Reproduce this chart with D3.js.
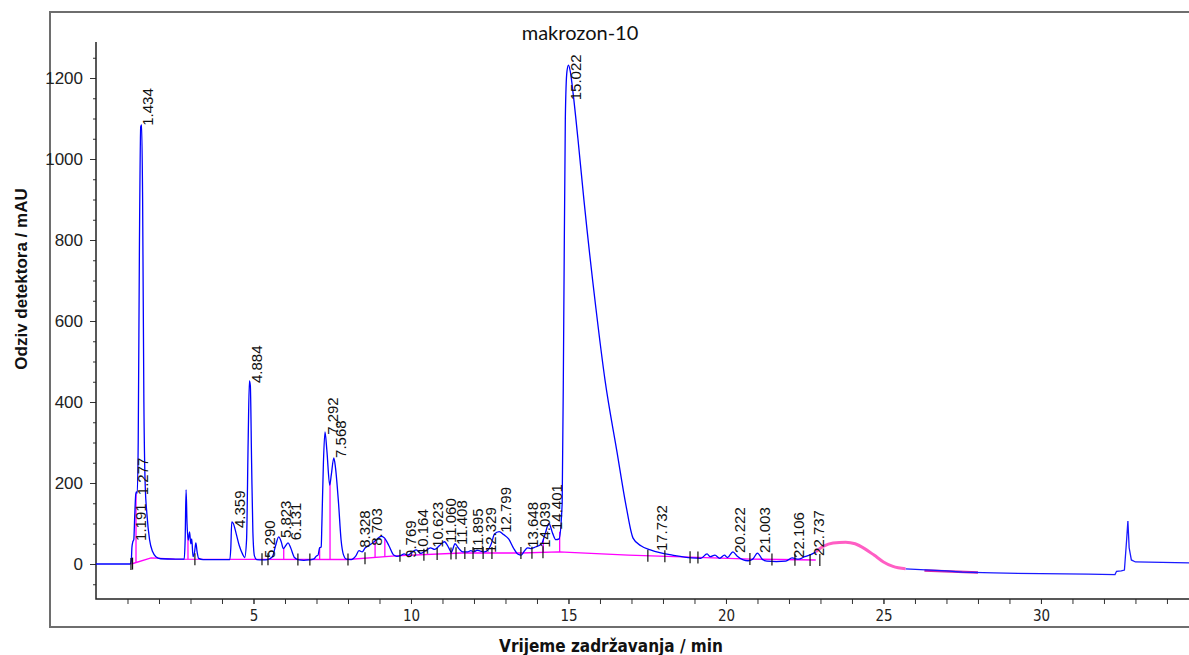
<!DOCTYPE html>
<html>
<head>
<meta charset="utf-8">
<script src="https://cdn.jsdelivr.net/npm/d3@7"></script>
<style>
  body { margin: 0; background: #fff; }
  svg { display: block; }
</style>
</head>
<body>
<div id="chart"></div>
<script>
const WIDTH = 1189;
const HEIGHT = 655;

const chartTitle = "makrozon-10";
const xTitle = "Vrijeme zadržavanja / min";
const yTitle = "Odziv detektora / mAU";

const xMajorTicks = [5, 10, 15, 20, 25, 30];
const xMinorTicks = d3.range(1, 35);
const yMajorTicks = [0, 200, 400, 600, 800, 1000, 1200];
const yMinorTicks = d3.range(-50, 1300, 50);

// signal (min, mAU)
const trace = [
  [0, 0], [1.08, 0], [1.12, 8], [1.14, 40], [1.17, 55], [1.2, 60], [1.23, 120], [1.26, 170],
  [1.28, 178], [1.31, 175], [1.34, 300], [1.38, 800], [1.42, 1080], [1.45, 1084], [1.48, 900],
  [1.52, 400], [1.56, 200], [1.62, 120], [1.7, 60], [1.8, 30], [1.9, 18], [2.05, 13], [2.5, 12],
  [2.8, 12], [2.83, 60], [2.86, 183], [2.89, 100], [2.93, 59], [2.97, 79], [3.01, 50], [3.04, 62],
  [3.08, 18], [3.13, 30], [3.17, 52], [3.21, 30], [3.26, 14], [3.4, 11], [4.0, 11], [4.25, 11],
  [4.28, 40], [4.31, 104], [4.36, 100], [4.45, 75], [4.55, 45], [4.65, 25], [4.72, 16], [4.78, 60],
  [4.83, 300], [4.87, 452], [4.9, 440], [4.94, 250], [4.98, 80], [5.03, 20], [5.1, 11], [5.29, 10],
  [5.45, 11], [5.6, 18], [5.7, 45], [5.8, 67], [5.88, 55], [5.95, 38], [6.02, 45], [6.1, 52],
  [6.18, 40], [6.3, 16], [6.45, 10], [6.6, 9], [6.75, 10], [6.9, 12], [6.95, 15], [7.0, 20],
  [7.05, 22], [7.1, 40], [7.15, 42], [7.17, 96], [7.22, 250], [7.27, 326], [7.33, 280], [7.42, 195],
  [7.47, 220], [7.55, 262], [7.6, 240], [7.7, 150], [7.78, 60], [7.86, 22], [7.95, 12], [8.1, 11],
  [8.25, 20], [8.35, 33], [8.45, 30], [8.55, 40], [8.65, 45], [8.75, 50], [8.9, 60], [9.05, 68],
  [9.15, 65], [9.3, 45], [9.45, 22], [9.55, 19], [9.7, 22], [9.78, 25], [9.9, 22], [10.05, 30],
  [10.17, 35], [10.3, 26], [10.45, 32], [10.62, 40], [10.75, 36], [10.9, 45], [11.06, 55],
  [11.2, 40], [11.28, 29], [11.4, 50], [11.5, 40], [11.65, 30], [11.8, 30], [11.9, 33], [12.0, 30],
  [12.1, 34], [12.2, 32], [12.33, 30], [12.45, 35], [12.55, 50], [12.65, 74], [12.8, 80],
  [12.95, 72], [13.1, 62], [13.25, 40], [13.4, 24], [13.5, 22], [13.6, 32], [13.7, 40], [13.8, 38],
  [13.95, 42], [14.05, 45], [14.15, 50], [14.25, 72], [14.38, 100], [14.5, 75], [14.6, 60],
  [14.7, 62], [14.8, 150], [14.85, 600], [14.9, 1100], [14.95, 1215], [15.0, 1232], [15.06, 1215],
  [15.15, 1160], [15.3, 1050], [15.49, 899], [15.87, 632], [16.16, 454], [16.54, 277], [16.83, 143],
  [17.05, 64], [17.3, 45], [17.6, 35], [17.9, 28], [18.3, 22], [18.9, 15], [19.2, 14], [19.4, 25],
  [19.5, 18], [19.65, 22], [19.8, 14], [19.95, 22], [20.05, 16], [20.22, 30], [20.35, 20],
  [20.55, 10], [20.7, 8], [20.85, 12], [21.0, 27], [21.15, 12], [21.3, 7], [21.6, 6], [21.9, 7],
  [22.1, 15], [22.3, 12], [22.5, 18], [22.74, 25], [22.85, 30]
];

// hump after 22.8 min, drawn in pink
const humpTrace = [
  [22.85, 30], [23.1, 44], [23.4, 52], [23.8, 54], [24.1, 50], [24.4, 38], [24.7, 22],
  [25.0, 5], [25.3, -6], [25.7, -12]
];

const tailTrace = [
  [25.7, -12], [26.5, -15], [27.0, -17], [27.5, -20], [28.5, -22], [30.0, -24], [31.5, -25],
  [32.35, -26], [32.4, -18], [32.55, -17], [32.65, -15], [32.72, 60], [32.76, 106], [32.8, 40],
  [32.87, 10], [33.0, 5], [34.7, 3]
];

// integration baseline
const baseline = [
  [1.12, 0], [1.75, 15], [2.5, 12], [8.0, 11], [9.5, 20], [11.6, 27], [13.5, 27], [14.7, 30],
  [16.9, 22], [20.8, 12], [22.85, 10]
];
const baseline2 = [[26.3, -16], [28.0, -21]];

// peak separation drops (min)
const dropTimes = [1.27, 2.92, 5.96, 7.1, 7.43, 8.86, 9.17, 14.2, 14.72];

// peak start/end marks (min)
const markTimes = [1.11, 1.16, 3.14, 5.27, 5.46, 6.41, 6.79, 8.0, 8.54, 9.65, 10.41, 10.83, 11.27,
  11.43, 11.71, 11.97, 12.29, 12.57, 13.49, 13.84, 14.19, 17.52, 18.06, 18.86, 19.11, 20.76,
  21.46, 22.19, 22.67, 22.98];

// peak labels: [text, retention time, label foot (mAU)]
const peakLabels = [
  ["1.191", 1.191, 52], ["1.277", 1.277, 165], ["1.434", 1.434, 1077], ["4.359", 4.359, 84],
  ["4.884", 4.884, 442], ["5.290", 5.290, 10], ["5.823", 5.823, 59], ["6.131", 6.131, 54],
  ["7.292", 7.292, 314], ["7.568", 7.568, 257], ["8.328", 8.328, 35], ["8.703", 8.703, 40],
  ["9.769", 9.769, 10], ["10.164", 10.164, 17], ["10.623", 10.623, 35], ["11.060", 11.060, 47],
  ["11.408", 11.408, 42], ["11.895", 11.895, 22], ["12.329", 12.329, 22], ["12.799", 12.799, 72],
  ["13.648", 13.648, 35], ["14.039", 14.039, 35], ["14.401", 14.401, 79], ["15.022", 15.022, 1140],
  ["17.732", 17.732, 27], ["20.222", 20.222, 22], ["21.003", 21.003, 22], ["22.106", 22.106, 10],
  ["22.737", 22.737, 15]
];

const PLOT_LEFT = 96, PLOT_TOP = 42, PLOT_BOTTOM = 599;

const svg = d3.select("#chart")
    .append("svg")
    .attr("width", WIDTH)
    .attr("height", HEIGHT);

const x = d3.scaleLinear().domain([0, 34.7]).range([PLOT_LEFT, WIDTH]);
const y = d3.scaleLinear().domain([0, 1200]).range([564, 78]);

// outer frame
svg.append("path")
    .attr("d", `M${WIDTH + 2},12 H50 V627 H${WIDTH + 2}`)
    .attr("fill", "none")
    .attr("stroke", "#6e6e6e")
    .attr("stroke-width", 2);

// axes
const yAxisMajor = d3.axisLeft(y).tickValues(yMajorTicks).tickSize(6).tickPadding(7).tickFormat(d3.format("d"));
const yAxisMinor = d3.axisLeft(y).tickValues(yMinorTicks).tickSize(3).tickFormat("");
const xAxisMajor = d3.axisBottom(x).tickValues(xMajorTicks).tickSize(5).tickPadding(6);
const xAxisMinor = d3.axisBottom(x).tickValues(xMinorTicks).tickSize(5).tickFormat("");

const gy = svg.append("g").attr("transform", `translate(${PLOT_LEFT},0)`);
gy.append("g").call(yAxisMinor);
gy.append("g").call(yAxisMajor);
const gx = svg.append("g").attr("transform", `translate(0,${PLOT_BOTTOM})`);
gx.append("g").call(xAxisMinor);
gx.append("g").call(xAxisMajor);

svg.selectAll(".domain").remove();
svg.selectAll(".tick line").attr("stroke", "#333");
gy.selectAll("text")
    .attr("font-family", "Liberation Sans, Arial, sans-serif")
    .attr("font-size", 17)
    .attr("fill", "#222");
gx.selectAll("text")
    .attr("font-family", "DejaVu Sans Condensed, DejaVu Sans, sans-serif")
    .attr("font-size", 15)
    .attr("fill", "#222");

svg.append("path")
    .attr("d", `M${PLOT_LEFT},${PLOT_TOP} V${PLOT_BOTTOM} H${WIDTH + 2}`)
    .attr("fill", "none")
    .attr("stroke", "#222")
    .attr("stroke-width", 1.5);

// baseline + drops
const line = d3.line().x(d => x(d[0])).y(d => y(d[1]));
const smooth = d3.line().x(d => x(d[0])).y(d => y(d[1])).curve(d3.curveMonotoneX);

const baseAt = d3.scaleLinear().domain(baseline.map(d => d[0])).range(baseline.map(d => d[1])).clamp(true);
const traceAt = d3.scaleLinear().domain(trace.map(d => d[0])).range(trace.map(d => d[1]));

svg.selectAll(".drop")
    .data(dropTimes)
    .enter().append("line")
    .attr("class", "drop")
    .attr("x1", d => x(d)).attr("x2", d => x(d))
    .attr("y1", d => y(baseAt(d))).attr("y2", d => y(traceAt(d)))
    .attr("stroke", "#ff00ff")
    .attr("stroke-width", 1.3);

svg.append("path")
    .datum(baseline)
    .attr("d", line)
    .attr("fill", "none")
    .attr("stroke", "#ff00ff")
    .attr("stroke-width", 1.4);

svg.append("path")
    .datum(baseline2)
    .attr("d", line)
    .attr("fill", "none")
    .attr("stroke", "#cc22aa")
    .attr("stroke-width", 2.5);

// signal
svg.append("path")
    .datum(trace)
    .attr("d", smooth)
    .attr("fill", "none")
    .attr("stroke", "#0000ff")
    .attr("stroke-width", 1.3);

svg.append("path")
    .datum(tailTrace)
    .attr("d", line)
    .attr("fill", "none")
    .attr("stroke", "#1a1aff")
    .attr("stroke-width", 1.3);

svg.append("path")
    .datum(humpTrace)
    .attr("d", smooth)
    .attr("fill", "none")
    .attr("stroke", "#ff5ec4")
    .attr("stroke-width", 3);

// start/end marks
svg.selectAll(".mark")
    .data(markTimes)
    .enter().append("line")
    .attr("class", "mark")
    .attr("x1", d => x(d)).attr("x2", d => x(d))
    .attr("y1", d => y(baseAt(d)) - 6).attr("y2", d => y(baseAt(d)) + 6)
    .attr("stroke", "#111")
    .attr("stroke-width", 1.2);

// peak labels
svg.selectAll(".plabel")
    .data(peakLabels)
    .enter().append("text")
    .attr("class", "plabel")
    .attr("transform", d => `translate(${x(d[1]) + 12},${y(d[2]) - 2}) rotate(-90)`)
    .attr("font-family", "Liberation Sans, Arial, sans-serif")
    .attr("font-size", 15)
    .attr("fill", "#111")
    .text(d => d[0]);

// titles
svg.append("text")
    .attr("x", 580).attr("y", 40)
    .attr("text-anchor", "middle")
    .attr("font-family", "Lato, Open Sans, sans-serif")
    .attr("font-size", 20)
    .attr("fill", "#111")
    .text(chartTitle);

svg.append("text")
    .attr("x", 611).attr("y", 652)
    .attr("text-anchor", "middle")
    .attr("font-family", "DejaVu Sans Condensed, DejaVu Sans, sans-serif")
    .attr("font-weight", "bold")
    .attr("font-size", 17)
    .attr("fill", "#111")
    .text(xTitle);

svg.append("text")
    .attr("transform", "translate(27,279) rotate(-90)")
    .attr("text-anchor", "middle")
    .attr("font-family", "Liberation Sans, Arial, sans-serif")
    .attr("font-weight", "bold")
    .attr("font-size", 17)
    .attr("fill", "#111")
    .text(yTitle);
</script>
</body>
</html>
